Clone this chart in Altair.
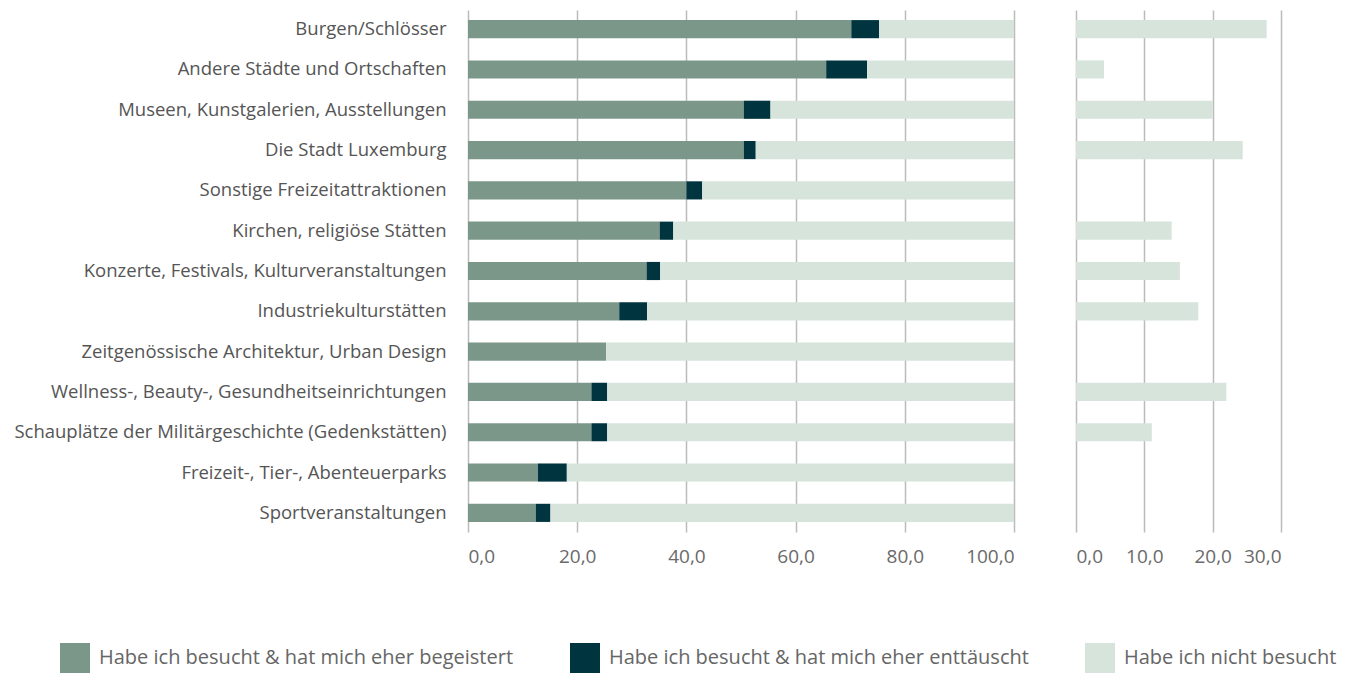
import altair as alt
import pandas as pd

categories = [
    "Burgen/Schlösser",
    "Andere Städte und Ortschaften",
    "Museen, Kunstgalerien, Ausstellungen",
    "Die Stadt Luxemburg",
    "Sonstige Freizeitattraktionen",
    "Kirchen, religiöse Stätten",
    "Konzerte, Festivals, Kulturveranstaltungen",
    "Industriekulturstätten",
    "Zeitgenössische Architektur, Urban Design",
    "Wellness-, Beauty-, Gesundheitseinrichtungen",
    "Schauplätze der Militärgeschichte (Gedenkstätten)",
    "Freizeit-, Tier-, Abenteuerparks",
    "Sportveranstaltungen",
]
series_names = [
    "Habe ich besucht & hat mich eher begeistert",
    "Habe ich besucht & hat mich eher enttäuscht",
    "Habe ich nicht besucht",
]
begeistert = [70.2, 65.6, 50.5, 50.5, 40.0, 35.1, 32.7, 27.7, 25.3, 22.6, 22.6, 12.8, 12.4]
enttaeuscht = [5.1, 7.5, 4.9, 2.2, 2.9, 2.5, 2.5, 5.1, 0.0, 2.9, 2.9, 5.3, 2.7]
nicht_besucht = [24.7, 26.9, 44.6, 47.3, 57.1, 62.4, 64.8, 67.2, 74.7, 74.5, 74.5, 81.9, 84.9]
right_values = [27.9, 4.1, 20.0, 24.4, None, 14.0, 15.2, 17.9, None, 22.0, 11.1, None, None]
left_ticks = [0, 20, 40, 60, 80, 100]
right_ticks = [0, 10, 20, 30]
colors = ["#7B978A", "#00353F", "#D7E4DC"]

rows = []
for i, c in enumerate(categories):
    for j, (name, vals) in enumerate(zip(series_names, [begeistert, enttaeuscht, nicht_besucht])):
        rows.append({"Kategorie": c, "Serie": name, "Wert": vals[i], "ord": j})
df_left = pd.DataFrame(rows)
df_right = pd.DataFrame({"Kategorie": categories, "Wert": right_values}).dropna()

label_expr = "replace(format(datum.value, '.1f'), '.', ',')"
FONT = "Open Sans"

y_scale = alt.Scale(domain=categories, paddingInner=0.55, paddingOuter=0.25)

x_axis_common = dict(
    title=None, labelExpr=label_expr, domain=False, ticks=False, grid=True,
    gridColor="#BBBBBB", gridWidth=1.5, labelFontSize=19, labelColor="#6A6A6A",
    labelFont=FONT, labelPadding=15,
)

left = alt.Chart(df_left).mark_bar().encode(
    x=alt.X(
        "Wert:Q", stack="zero",
        scale=alt.Scale(domain=[0, 100], nice=False),
        axis=alt.Axis(values=left_ticks, **x_axis_common),
    ),
    y=alt.Y(
        "Kategorie:N", sort=categories, scale=y_scale,
        axis=alt.Axis(
            title=None, domain=False, ticks=False, labelPadding=22,
            labelFontSize=18.5, labelColor="#555555", labelFont=FONT, labelLimit=600,
        ),
    ),
    color=alt.Color(
        "Serie:N", sort=series_names,
        scale=alt.Scale(domain=series_names, range=colors),
        legend=alt.Legend(title=None, orient="none", legendX=-408, legendY=633),
    ),
    order=alt.Order("ord:Q"),
).properties(width=546, height=522)

right = alt.Chart(df_right).mark_bar(color=colors[2]).encode(
    x=alt.X(
        "Wert:Q",
        scale=alt.Scale(domain=[0, 30], nice=False),
        axis=alt.Axis(values=right_ticks, **x_axis_common),
    ),
    y=alt.Y("Kategorie:N", sort=categories, scale=y_scale, axis=None),
).properties(width=205, height=522)

chart = alt.hconcat(left, right, spacing=62).properties(
    padding={"left": 5, "top": 2, "right": 5, "bottom": 5}
).configure_view(
    stroke=None
).configure_legend(
    direction="horizontal", symbolType="square",
    symbolSize=900, symbolStrokeWidth=0, labelFontSize=20, labelFont=FONT,
    labelColor="#666666", columnPadding=56, labelLimit=600, labelOffset=9,
)

chart.save("out.html", embed_options={"renderer": "svg", "actions": False})
